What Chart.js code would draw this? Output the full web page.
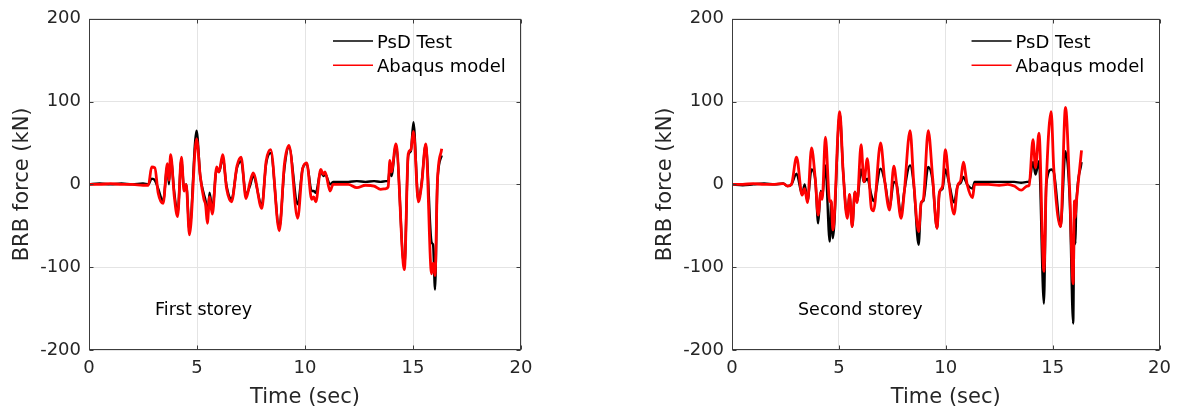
<!DOCTYPE html>
<html>
<head>
<meta charset="utf-8">
<title>BRB force</title>
<script src="https://cdn.jsdelivr.net/npm/chart.js@4.4.0/dist/chart.umd.min.js"></script>
<style>
  html, body { margin: 0; padding: 0; background: #fff; }
  body { width: 1179px; height: 411px; position: relative; overflow: hidden; }
  canvas { position: absolute; top: 0; }
  #firstChart { left: 0; }
  #secondChart { left: 643px; }
</style>
</head>
<body>
<canvas id="firstChart" width="560" height="411"></canvas>
<canvas id="secondChart" width="536" height="411"></canvas>
<script>
const timeTicks = [0, 5, 10, 15, 20];
const forceTicks = [-200, -100, 0, 100, 200];
const seriesNames = ['PsD Test', 'Abaqus model'];
const storeyNames = ['First storey', 'Second storey'];

// first storey (time in s, force in kN)
const firstTime = [0, 0.5, 1.0, 1.5, 2.0, 2.5, 2.75, 2.9, 3.05, 3.2, 3.43, 3.63, 3.7, 3.78, 3.95, 4.1, 4.28, 4.4, 4.5, 4.65,
  4.98, 5.15, 5.32, 5.4, 5.48, 5.58, 5.71, 5.91, 6.02, 6.19, 6.37, 6.6, 6.85, 7.04, 7.27, 7.45, 7.6, 8.0, 8.2, 8.41,
  8.81, 9.05, 9.26, 9.66, 9.89, 10.08, 10.31, 10.4, 10.5, 10.73, 10.85, 10.93, 11.16, 11.3, 12.0, 12.4, 12.8, 13.2, 13.5, 13.75,
  13.85, 13.93, 14.0, 14.21, 14.6, 14.78, 14.9, 15.02, 15.25, 15.4, 15.59, 15.86, 15.93, 16.02, 16.13, 16.33];
const firstTest = [0, 1, 0, 1, 0, 1, 0, 7, 5, -5, -20, 22, 0, 32, -10, -35, 30, -5, 0, -55,
  65, 10, -12, -20, -40, -10, -30, 18, 15, 32, -2, -18, 20, 28, -12, -2, 10, -25, 25, 38,
  -52, 20, 45, -24, 19, 25, -8, -8, -10, 16, 10, 13, 0, 3, 3, 4, 3, 4, 3, 4,
  4, 20, 10, 47, -100, 35, 40, 75, -20, 2, 48, -70, -73, -127, 3, 35];
const firstModel = [0, 0, 1, 0, 0, -1, -1, 21, 20, -10, -23, 25, 5, 36, -15, -39, 33, -8, 0, -61,
  55, 10, -18, -25, -47, -15, -36, 21, 15, 36, -5, -21, 22, 33, -17, 2, 14, -29, 28, 42,
  -56, 25, 47, -41, 19, 26, -18, -15, -21, 18, 12, 15, -8, 0, 0, -4, -1, -2, -6, -5,
  -3, 29, 15, 49, -103, 37, 42, 64, -21, 0, 49, -108, -95, -110, 3, 43];

// second storey
const secondTime = [0, 0.5, 1.0, 1.5, 2.0, 2.4, 2.6, 2.78, 3.02, 3.28, 3.4, 3.53, 3.72, 3.9, 4.03, 4.15, 4.22, 4.37, 4.57, 4.64,
  4.72, 5.04, 5.2, 5.39, 5.5, 5.62, 5.75, 5.85, 6.04, 6.17, 6.33, 6.52, 6.62, 6.95, 7.15, 7.37, 7.57, 7.7, 7.91, 8.05,
  8.33, 8.5, 8.73, 8.85, 8.95, 9.18, 9.38, 9.59, 9.7, 9.85, 9.98, 10.15, 10.39, 10.55, 10.7, 10.82, 11.0, 11.25, 11.35, 12.0,
  12.5, 12.9, 13.2, 13.53, 13.8, 13.9, 14.08, 14.2, 14.36, 14.59, 14.7, 14.93, 15.05, 15.37, 15.6, 15.8, 15.96, 16.02, 16.06, 16.1,
  16.35];
const secondTest = [0, -1, 0, 1, 0, 1, -2, 0, 13, -12, 0, -20, 18, 5, -47, -8, -15, 23, -69, -20,
  -65, 85, 15, -38, -12, -51, -9, -20, 18, 3, 7, -13, -20, 19, 3, -28, 3, 0, -38, -10,
  23, 0, -73, -22, -20, 21, 5, -53, -10, -5, 18, 2, -22, -2, 2, 9, 0, -5, 3, 3,
  3, 3, 3, 2, 3, 3, 27, 12, 28, -144, 0, 18, 15, -51, 40, -20, -168, -20, -72, -30,
  27];
const secondModel = [0, 0, 1, 0, 0, 1, -2, 0, 33, -13, -5, -22, 44, 5, -37, -10, -18, 57, -21, -20,
  -55, 88, 15, -41, -12, -51, -9, -22, 48, 3, 31, -29, -32, 50, 3, -31, 22, 0, -41, -12,
  65, 3, -57, -22, -18, 65, 10, -53, -10, -2, 42, 2, -36, -2, 5, 27, 0, -16, 0, 0,
  -1, 0, -2, -7, -2, -1, 54, 20, 62, -105, 0, 88, 20, -51, 93, -10, -120, -20, -40, -25,
  41];

const FONT = "'DejaVu Sans', sans-serif";

function points(t, v) {
  return t.map((x, i) => ({ x: x, y: v[i] }));
}

const framePlugin = {
  id: 'frame',
  afterDraw(chart, args, opts) {
    const { ctx, chartArea: a, scales } = chart;
    ctx.save();
    ctx.strokeStyle = '#3c3c3c';
    ctx.lineWidth = 1;
    const L = Math.round(a.left) + 0.5, R = Math.round(a.right) - 0.5;
    const T = Math.round(a.top) + 0.5, B = Math.round(a.bottom) - 0.5;
    ctx.strokeRect(L, T, R - L, B - T);
    // inward ticks on all sides
    ctx.beginPath();
    timeTicks.forEach(v => {
      const x = Math.round(scales.x.getPixelForValue(v)) + 0.5;
      ctx.moveTo(x, B); ctx.lineTo(x, B - 4);
      ctx.moveTo(x, T); ctx.lineTo(x, T + 4);
    });
    forceTicks.forEach(v => {
      const y = Math.round(scales.y.getPixelForValue(v)) + 0.5;
      ctx.moveTo(L, y); ctx.lineTo(L + 4, y);
      ctx.moveTo(R, y); ctx.lineTo(R - 4, y);
    });
    ctx.stroke();

    // legend
    ctx.font = '18px ' + FONT;
    ctx.textBaseline = 'alphabetic';
    ctx.textAlign = 'left';
    const tx = a.right - 144;
    chart.data.datasets.forEach((ds, i) => {
      const base = 47.5 + i * 24.3;
      ctx.strokeStyle = ds.borderColor;
      ctx.lineWidth = 1.6;
      ctx.beginPath();
      ctx.moveTo(tx - 44, base - 6.5);
      ctx.lineTo(tx - 4, base - 6.5);
      ctx.stroke();
      ctx.fillStyle = '#000';
      ctx.fillText(ds.label, tx, base);
    });

    // storey label
    ctx.font = '17.5px ' + FONT;
    ctx.fillText(opts.label, a.left + 66, 315);
    ctx.restore();
  }
};

function makeChart(id, time, test, model, label, padRight) {
  const ctx = document.getElementById(id).getContext('2d');
  return new Chart(ctx, {
    type: 'line',
    data: {
      datasets: [{
        label: seriesNames[0],
        data: points(time, test),
        borderColor: '#000000',
        borderWidth: 2.4,
        pointRadius: 0,
        cubicInterpolationMode: 'monotone',
        order: 1
      }, {
        label: seriesNames[1],
        data: points(time, model),
        borderColor: '#ff0000',
        borderWidth: 2.8,
        pointRadius: 0,
        cubicInterpolationMode: 'monotone',
        order: 0
      }]
    },
    options: {
      responsive: false,
      animation: false,
      devicePixelRatio: 1,
      layout: { padding: { top: 16, right: padRight, left: 0, bottom: 0 } },
      plugins: {
        legend: { display: false },
        tooltip: { enabled: false },
        frame: { label: label }
      },
      scales: {
        x: {
          type: 'linear',
          min: 0,
          max: 20,
          afterFit: (s) => { s.height = 61; },
          afterBuildTicks: (s) => { s.ticks = timeTicks.map(v => ({ value: v })); },
          ticks: { color: '#262626', padding: 8, font: { family: FONT, size: 18 } },
          grid: { color: '#e4e4e4', drawTicks: false },
          border: { display: false },
          title: { display: true, text: 'Time (sec)', color: '#262626', padding: { top: 0, bottom: 1 }, font: { family: FONT, size: 21 } }
        },
        y: {
          min: -200,
          max: 200,
          afterFit: (s) => { s.width = 89; },
          afterBuildTicks: (s) => { s.ticks = forceTicks.map(v => ({ value: v })); },
          ticks: { color: '#262626', padding: 8, font: { family: FONT, size: 18 } },
          grid: { color: '#e4e4e4', drawTicks: false },
          border: { display: false },
          title: { display: true, text: 'BRB force (kN)', color: '#262626', padding: { top: 10, bottom: 0 }, font: { family: FONT, size: 21 } }
        }
      }
    },
    plugins: [framePlugin]
  });
}

makeChart('firstChart', firstTime, firstTest, firstModel, storeyNames[0], 39);
makeChart('secondChart', secondTime, secondTest, secondModel, storeyNames[1], 18);
</script>
</body>
</html>
